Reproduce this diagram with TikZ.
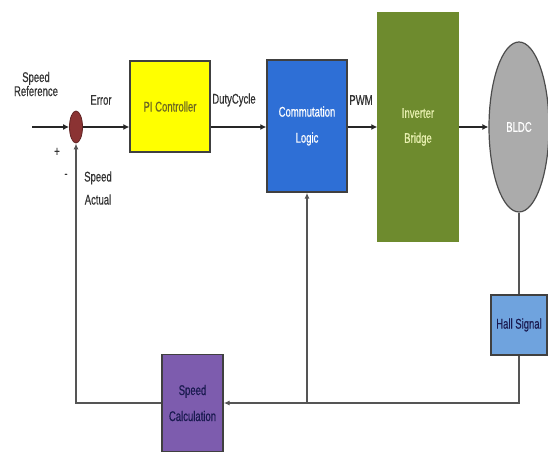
\documentclass[tikz,border=0pt]{standalone}
\usepackage{fontspec}
\setmainfont{Liberation Sans}
\newfontfamily\cond[FakeStretch=0.68,FakeBold=0.5]{Liberation Sans}
\usetikzlibrary{shapes.geometric,arrows.meta}
\definecolor{sumred}{HTML}{8B3333}
\definecolor{piyellow}{HTML}{FFFF00}
\definecolor{comblue}{HTML}{2E6FD6}
\definecolor{involive}{HTML}{6E8B2E}
\definecolor{bldcgray}{HTML}{ABABAB}
\definecolor{hallblue}{HTML}{6FA3DE}
\definecolor{calcpurple}{HTML}{7D5CAE}
\definecolor{linegray}{HTML}{555555}
\definecolor{txtnavy}{HTML}{1A1A50}
\definecolor{invtext}{HTML}{E8F0B0}
\tikzset{
  blk/.style={draw=black!75, line width=1.4pt, rectangle, align=center, inner sep=1pt, font=\cond\fontsize{14}{16}\selectfont},
  lbl/.style={align=center, inner sep=0pt, font=\cond\fontsize{14}{14}\selectfont, text=black!80},
  mainarrow/.style={draw=black!85, line width=1.6pt, -{Latex[length=6pt,width=6pt]}},
  fbline/.style={draw=linegray, line width=1.2pt},
  fbarrow/.style={draw=linegray, line width=1.2pt, -{Latex[length=6pt,width=5pt]}},
}
\begin{document}
\begin{tikzpicture}[x=1pt,y=-1pt]
\useasboundingbox (0,0) rectangle (548,454);
% blocks
\node[ellipse, draw=sumred!70!black, fill=sumred, line width=0.8pt, minimum width=13pt, minimum height=32pt, inner sep=0pt] (sum) at (76,127) {};
\node[blk, fill=piyellow, minimum width=80pt, minimum height=91pt, text=olive!70!black] (pi) at (170,106.5) {PI Controller};
\node[blk, fill=comblue, minimum width=80pt, minimum height=132pt, text=white] (com) at (307,126) {Commutation\\[10pt]Logic};
\node[blk, draw=involive, fill=involive, minimum width=80pt, minimum height=228pt, text=invtext] (inv) at (418,127) {Inverter\\[9pt]Bridge};
\node[ellipse, draw=black!70, fill=bldcgray, line width=1.2pt, minimum width=60pt, minimum height=170pt, inner sep=0pt, text=white, font=\cond\fontsize{14}{16}\selectfont] (bldc) at (519,127) {BLDC};
\node[blk, fill=hallblue, minimum width=56pt, minimum height=60pt, text=txtnavy] (hall) at (519,325) {Hall Signal};
\node[blk, fill=calcpurple, minimum width=61pt, minimum height=97pt, text=txtnavy] (calc) at (192.5,403) {Speed\\[10pt]Calculation};
% labels
\node[lbl] (lref) at (36,84) {Speed\\Reference};
\node[lbl] (lerr) at (101,100) {Error};
\node[lbl] (lduty) at (234,100) {DutyCycle};
\node[lbl] (lpwm) at (361,100) {PWM};
\node[lbl] (lplus) at (57,152) {+};
\node[lbl] (lminus) at (66,176) {-};
\node[lbl] (lact) at (98,188) {Speed\\[9pt]Actual};
% coordinates
\coordinate (in) at (32,127);
\coordinate (c1) at (519,403);
\coordinate (j) at (com.south |- c1);
\coordinate (c2) at (sum |- calc.west);
% forward path
\draw[mainarrow] (in) -- (sum.west);
\draw[mainarrow] (sum.east) -- (sum.east -| pi.west);
\draw[mainarrow] (sum -| pi.east) -- (sum -| com.west);
\draw[mainarrow] (sum -| com.east) -- (sum -| inv.west);
\draw[mainarrow] (sum -| inv.east) -- (bldc.west);
% feedback
\draw[fbline] (bldc.south) -- (hall.north);
\draw[fbarrow] (hall.south) -- (c1) -- (calc.east);
\draw[fbarrow] (j) -- (com.south);
\draw[fbarrow] (calc.west) -- (c2) -- (sum.south);
\end{tikzpicture}
\end{document}
